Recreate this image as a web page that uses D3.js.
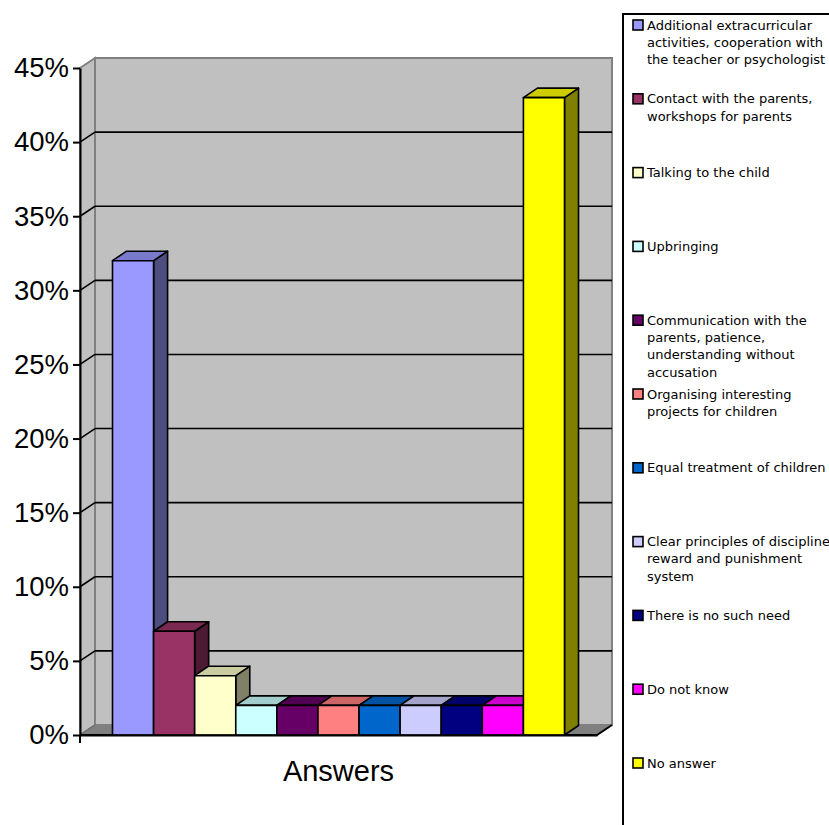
<!DOCTYPE html>
<html>
<head>
<meta charset="utf-8">
<script src="https://cdn.jsdelivr.net/npm/d3@7"></script>
<style>
  html, body { margin: 0; padding: 0; background: #fff; }
  svg { display: block; }
  text { font-family: "Liberation Sans", Arial, sans-serif; fill: #000; }
  .legend text { font-family: "DejaVu Sans", sans-serif; }
</style>
</head>
<body>
<svg id="chart" width="829" height="825"></svg>
<script>
// Survey answers (share of respondents), one category with eleven series
const category = "Answers";
const seriesNames = [
  "Additional extracurricular\nactivities, cooperation with\nthe teacher or psychologist",
  "Contact with the parents,\nworkshops for parents",
  "Talking to the child",
  "Upbringing",
  "Communication with the\nparents, patience,\nunderstanding without\naccusation",
  "Organising interesting\nprojects for children",
  "Equal treatment of children",
  "Clear principles of discipline\nreward and punishment\nsystem",
  "There is no such need",
  "Do not know",
  "No answer"
];
const values = [0.32, 0.07, 0.04, 0.02, 0.02, 0.02, 0.02, 0.02, 0.02, 0.02, 0.43];
const colors = ["#9999FF", "#993366", "#FFFFCC", "#CCFFFF", "#660066", "#FF8080",
                "#0066CC", "#CCCCFF", "#000080", "#FF00FF", "#FFFF00"];
const yTicks = [0, 0.05, 0.10, 0.15, 0.20, 0.25, 0.30, 0.35, 0.40, 0.45];

const svg = d3.select("#chart");

// Plot frame (front plane) and 3D depth offsets
const plotLeft = 80, plotRight = 597, plotBottom = 735, plotTop = 68;
const wdx = 15, wdy = 10;     // walls depth
const bdx = 14, bdy = 9.5;    // bar depth

const y = d3.scaleLinear().domain([0, 0.45]).range([plotBottom, plotTop]);
const x0 = d3.scaleBand().domain([category]).range([plotLeft, plotRight]);
const inset = 32.5;
const x1 = d3.scaleBand().domain(d3.range(values.length))
  .range([x0(category) + inset, x0(category) + x0.bandwidth() - inset]);

const shade = (c, k) => { const o = d3.rgb(c); return d3.rgb(o.r * k, o.g * k, o.b * k).formatHex(); };
const poly = pts => pts.map(p => p.join(",")).join(" ");

// Walls
const g = svg.append("g");
g.append("polygon")
  .attr("points", poly([[plotLeft, y(0.45)], [plotLeft + wdx, y(0.45) - wdy], [plotLeft + wdx, plotBottom - wdy], [plotLeft, plotBottom]]))
  .attr("fill", "#c0c0c0").attr("stroke", "#808080").attr("stroke-width", 2);
g.append("rect")
  .attr("x", plotLeft + wdx).attr("y", y(0.45) - wdy)
  .attr("width", plotRight - plotLeft).attr("height", y(0) - y(0.45))
  .attr("fill", "#c0c0c0").attr("stroke", "#808080").attr("stroke-width", 2);

// Gridlines on back wall and side wall
const grid = yTicks.filter(t => t > 0 && t < 0.45);
g.selectAll("line.grid").data(grid).join("line").attr("class", "grid")
  .attr("x1", plotLeft + wdx).attr("x2", plotRight + wdx)
  .attr("y1", d => y(d) - wdy).attr("y2", d => y(d) - wdy)
  .attr("stroke", "#000").attr("stroke-width", 1.6);
g.selectAll("line.gridside").data(grid).join("line").attr("class", "gridside")
  .attr("x1", plotLeft).attr("x2", plotLeft + wdx)
  .attr("y1", d => y(d)).attr("y2", d => y(d) - wdy)
  .attr("stroke", "#000").attr("stroke-width", 1.6);

// Floor
g.append("polygon")
  .attr("points", poly([[plotLeft, plotBottom], [plotLeft + wdx, plotBottom - wdy], [plotRight + wdx, plotBottom - wdy], [plotRight, plotBottom]]))
  .attr("fill", "#808080").attr("stroke", "none");
g.append("line").attr("x1", plotLeft).attr("y1", plotBottom).attr("x2", plotLeft + wdx).attr("y2", plotBottom - wdy)
  .attr("stroke", "#707070").attr("stroke-width", 1.5);
g.append("polyline")
  .attr("points", poly([[plotLeft, plotBottom], [plotRight, plotBottom], [plotRight + wdx, plotBottom - wdy]]))
  .attr("fill", "none").attr("stroke", "#000").attr("stroke-width", 2);

// Bars
const bw = x1.bandwidth();
const bars = svg.append("g").attr("stroke", "#000").attr("stroke-width", 1.6).attr("stroke-linejoin", "round");
values.forEach((v, i) => {
  const bx = x1(i), yt = y(v), y0 = y(0);
  const b = bars.append("g");
  b.append("polygon")
    .attr("points", poly([[bx + bw, yt], [bx + bw + bdx, yt - bdy], [bx + bw + bdx, y0 - bdy], [bx + bw, y0]]))
    .attr("fill", shade(colors[i], 0.5));
  b.append("polygon")
    .attr("points", poly([[bx, yt], [bx + bdx, yt - bdy], [bx + bw + bdx, yt - bdy], [bx + bw, yt]]))
    .attr("fill", shade(colors[i], 0.8));
  b.append("rect").attr("x", bx).attr("y", yt).attr("width", bw).attr("height", y0 - yt)
    .attr("fill", colors[i]);
});

// Y axis
const yAxis = svg.append("g").attr("transform", `translate(${plotLeft},0)`)
  .call(d3.axisLeft(y).tickValues(yTicks).tickFormat(d3.format(".0%")).tickSize(7).tickSizeOuter(0).tickPadding(4));
yAxis.select(".domain").attr("stroke", "#000").attr("stroke-width", 2);
yAxis.selectAll(".tick line").attr("stroke", "#000").attr("stroke-width", 2);
yAxis.selectAll(".tick text").attr("font-size", 27.5).attr("font-family", "Liberation Sans, Arial, sans-serif").attr("fill", "#000");

// X axis
const xAxis = svg.append("g").attr("transform", `translate(0,${plotBottom})`)
  .call(d3.axisBottom(x0).tickValues([]).tickSizeOuter(0));
xAxis.select(".domain").attr("stroke", "#000").attr("stroke-width", 2);
xAxis.append("line").attr("x1", plotLeft).attr("x2", plotLeft).attr("y1", 0).attr("y2", 8)
  .attr("stroke", "#000").attr("stroke-width", 2);
svg.append("text").attr("x", x0(category) + x0.bandwidth() / 2).attr("y", 781)
  .attr("text-anchor", "middle").attr("font-size", 29).text(category);

// Legend
const lg = svg.append("g").attr("class", "legend");
lg.append("rect").attr("x", 623).attr("y", 14).attr("width", 300).attr("height", 900)
  .attr("fill", "#fff").attr("stroke", "#000").attr("stroke-width", 2);
const step = 73.8, lh = 17.3;
seriesNames.forEach((name, i) => {
  const cy = 25 + i * step;
  lg.append("rect").attr("x", 633).attr("y", cy - 5).attr("width", 10).attr("height", 10)
    .attr("fill", colors[i]).attr("stroke", "#000").attr("stroke-width", 1.6);
  const t = lg.append("text").attr("x", 647).attr("y", cy).attr("font-size", 13);
  name.split("\n").forEach((ln, j) => {
    t.append("tspan").attr("x", 647).attr("y", cy + j * lh).attr("dy", "0.35em").text(ln);
  });
});
</script>
</body>
</html>
